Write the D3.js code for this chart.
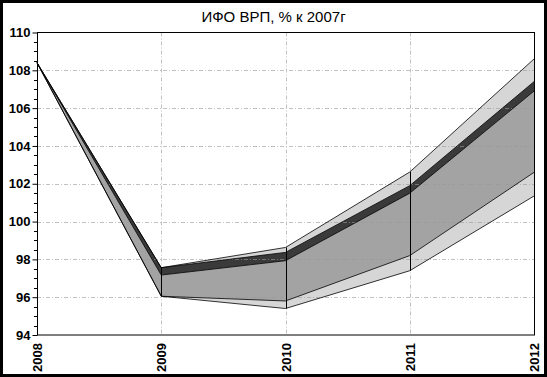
<!DOCTYPE html>
<html>
<head>
<meta charset="utf-8">
<script src="https://cdn.jsdelivr.net/npm/d3@7"></script>
<style>
  body { margin: 0; background: #fff; }
  svg { display: block; }
</style>
</head>
<body>
<div id="chart"></div>
<script>
(function() {
    'use strict';

    // data
    const years = [2008, 2009, 2010, 2011, 2012];
    const lightLow = [108.4, 96.05, 95.4, 97.4, 101.35];
    const midLow = [108.4, 96.05, 95.8, 98.2, 102.6];
    const darkLow = [108.4, 97.17, 97.93, 101.5, 106.9];
    const darkHigh = [108.4, 97.56, 98.37, 101.9, 107.4];
    const lightHigh = [108.4, 97.56, 98.63, 102.62, 108.6];
    const yTicks = [94, 96, 98, 100, 102, 104, 106, 108, 110];
    const titleText = "ИФО ВРП, % к 2007г";

    const width = 547;
    const height = 377;

    const marginLeft = 37;
    const marginRight = 13;
    const marginTop = 32.5;
    const marginBottom = 42;

    const svg = d3.select("#chart")
        .append("svg")
        .attr("width", width)
        .attr("height", height);

    // outer frame
    svg.append("rect")
        .attr("x", 1.5).attr("y", 1.5)
        .attr("width", width - 3).attr("height", height - 3)
        .attr("fill", "#fff")
        .attr("stroke", "#000")
        .attr("stroke-width", 3);

    const x = d3.scalePoint()
        .domain(years)
        .range([marginLeft, width - marginRight]);

    const y = d3.scaleLinear()
        .domain([94, 110])
        .range([height - marginBottom, marginTop]);

    const rows = years.map((yr, i) => ({
        year: yr,
        lightLow: lightLow[i],
        midLow: midLow[i],
        darkLow: darkLow[i],
        darkHigh: darkHigh[i],
        lightHigh: lightHigh[i]
    }));

    // BANDS
    const band = (lo, hi) => d3.area()
        .x(d => x(d.year))
        .y0(d => y(d[lo]))
        .y1(d => y(d[hi]));

    svg.append("path")
        .datum(rows)
        .attr("d", band("lightLow", "lightHigh"))
        .attr("fill", "#d6d6d6");

    svg.append("path")
        .datum(rows)
        .attr("d", band("midLow", "darkLow"))
        .attr("fill", "#a3a3a3");

    svg.append("path")
        .datum(rows)
        .attr("d", band("darkLow", "darkHigh"))
        .attr("fill", "#3a3a3a");

    // GRID (on top, faint)
    const grid = svg.append("g")
        .attr("stroke", "#999")
        .attr("stroke-width", 1)
        .attr("stroke-dasharray", "4,2,1,2")
        .attr("opacity", 0.6);

    grid.selectAll("line.h")
        .data(yTicks.filter(t => t > 94 && t < 110))
        .join("line")
        .attr("x1", marginLeft)
        .attr("x2", width - marginRight)
        .attr("y1", d => Math.round(y(d)) + 0.5)
        .attr("y2", d => Math.round(y(d)) + 0.5);

    grid.selectAll("line.v")
        .data(years.slice(1, -1))
        .join("line")
        .attr("class", "v")
        .attr("x1", d => Math.round(x(d)) + 0.5)
        .attr("x2", d => Math.round(x(d)) + 0.5)
        .attr("y1", marginTop)
        .attr("y2", height - marginBottom);

    // OUTLINES
    const edge = key => d3.line()
        .x(d => x(d.year))
        .y(d => y(d[key]));

    ["lightLow", "midLow", "lightHigh", "darkHigh", "darkLow"].forEach(k => {
        svg.append("path")
            .datum(rows)
            .attr("d", edge(k))
            .attr("fill", "none")
            .attr("stroke", "#000")
            .attr("stroke-width", 0.8);
    });

    // drop lines at each year
    svg.append("g")
        .selectAll("line")
        .data(rows.slice(1))
        .join("line")
        .attr("x1", d => Math.round(x(d.year)) + 0.5)
        .attr("x2", d => Math.round(x(d.year)) + 0.5)
        .attr("y1", d => y(d.lightLow))
        .attr("y2", d => y(d.lightHigh))
        .attr("stroke", "#000")
        .attr("stroke-width", 1);

    // plot frame
    svg.append("rect")
        .attr("x", marginLeft + 0.5)
        .attr("y", marginTop)
        .attr("width", width - marginRight - marginLeft)
        .attr("height", height - marginBottom - marginTop)
        .attr("fill", "none")
        .attr("stroke", "#000")
        .attr("stroke-width", 1);

    // Y AXIS
    const yAxis = svg.append("g")
        .attr("transform", `translate(${marginLeft + 0.5}, 0)`)
        .call(d3.axisLeft(y)
            .tickValues(yTicks)
            .tickSize(5)
            .tickFormat(d3.format("d")))
        .call(g => g.select(".domain").remove())
        .call(g => g.selectAll("line").attr("stroke", "#000"));

    yAxis.selectAll("text")
        .attr("x", -7)
        .attr("fill", "#000")
        .attr("font-size", "13px")
        .attr("font-weight", "bold")
        .attr("font-family", "'Liberation Sans Narrow', 'Arial Narrow', sans-serif");

    // minor ticks
    svg.append("g")
        .selectAll("line")
        .data(d3.range(94.5, 110, 0.5).filter(v => v % 2 !== 0))
        .join("line")
        .attr("x1", marginLeft - 3)
        .attr("x2", marginLeft)
        .attr("y1", d => Math.round(y(d)) + 0.5)
        .attr("y2", d => Math.round(y(d)) + 0.5)
        .attr("stroke", "#000");

    // X AXIS labels (rotated)
    svg.append("g")
        .selectAll("text")
        .data(years)
        .join("text")
        .attr("transform", d => `translate(${x(d) + 5}, ${height - marginBottom + 8}) rotate(-90)`)
        .attr("text-anchor", "end")
        .attr("fill", "#000")
        .attr("font-size", "13px")
        .attr("font-weight", "bold")
        .attr("font-family", "'Liberation Sans Narrow', 'Arial Narrow', sans-serif")
        .text(d => d);

    // TITLE
    svg.append("text")
        .attr("x", width / 2)
        .attr("y", 22)
        .attr("text-anchor", "middle")
        .attr("fill", "#000")
        .attr("font-size", "15px")
        .attr("font-family", "'Liberation Sans', Arial, sans-serif")
        .text(titleText);
})();
</script>
</body>
</html>
